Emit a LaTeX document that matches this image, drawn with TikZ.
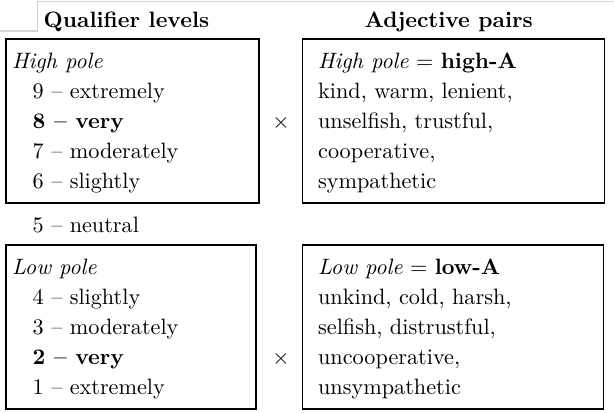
\documentclass[tikz,border=0pt]{standalone}
\begin{document}
\begin{tikzpicture}[x=0.45pt,y=-0.45pt,
  txt/.style={anchor=base west, inner sep=0pt, font=\fontsize{10}{12}\selectfont},
  hdr/.style={txt, font=\fontsize{10}{12}\selectfont\bfseries},
  box/.style={draw, line width=0.8pt},
  faint/.style={draw=black!17, line width=0.6pt}]
\useasboundingbox (0,0) rectangle (614,412);
% faint frame fragments seen in the reference
\draw[faint] (0,31) -- (37.3,31) -- (37.3,1.7) -- (614,1.7);
% headers
\node[hdr] (hq) at (43.3,27) {Qualifier levels};
\node[hdr] (ha) at (364.3,27) {Adjective pairs};
% boxes
\draw[box] (6,39) rectangle (259,203);
\draw[box] (302.5,39) rectangle (604.5,203);
\draw[box] (6,245) rectangle (256,409);
\draw[box] (302.5,245) rectangle (603.5,409);
% upper left
\node[txt] (hp) at (11.7,68) {\textit{High pole}};
\node[txt] (q9) at (32.3,98) {9 -- extremely};
\node[txt] (q8) at (32.3,128) {\textbf{8 -- very}};
\node[txt] (q7) at (32.3,158) {7 -- moderately};
\node[txt] (q6) at (32.3,188) {6 -- slightly};
% neutral
\node[txt] (q5) at (32.3,232) {5 -- neutral};
% lower left
\node[txt] (lp) at (11.7,274) {\textit{Low pole}};
\node[txt] (q4) at (32.3,304) {4 -- slightly};
\node[txt] (q3) at (32.3,334) {3 -- moderately};
\node[txt] (q2) at (32.3,364) {\textbf{2 -- very}};
\node[txt] (q1) at (32.3,394) {1 -- extremely};
% times
\node[txt, anchor=base] (x1) at (281,128) {$\times$};
\node[txt, anchor=base] (x2) at (281,364) {$\times$};
% upper right
\node[txt] (ah) at (317.7,68) {\textit{High pole} $=$ \textbf{high-A}};
\node[txt] (a1) at (317.7,98) {kind, warm, lenient,};
\node[txt] (a2) at (317.7,128) {unselfish, trustful,};
\node[txt] (a3) at (317.7,158) {cooperative,};
\node[txt] (a4) at (317.7,188) {sympathetic};
% lower right
\node[txt] (al) at (317.7,274) {\textit{Low pole} $=$ \textbf{low-A}};
\node[txt] (b1) at (317.7,304) {unkind, cold, harsh,};
\node[txt] (b2) at (317.7,334) {selfish, distrustful,};
\node[txt] (b3) at (317.7,364) {uncooperative,};
\node[txt] (b4) at (317.7,394) {unsympathetic};
\end{tikzpicture}
\end{document}
